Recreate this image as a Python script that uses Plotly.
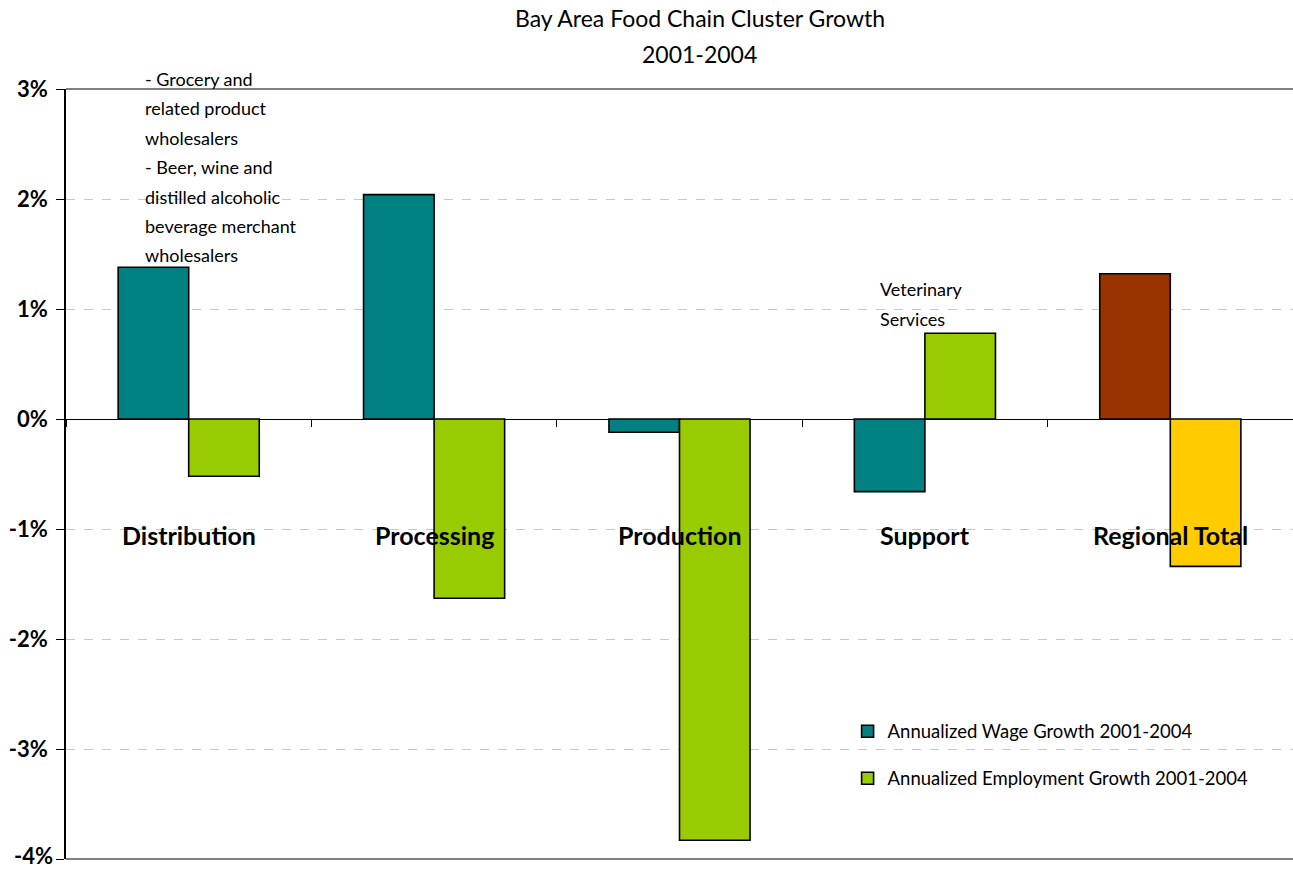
import plotly.graph_objects as go

# Cluster segments and annualized growth rates (percent)
categories = ["Distribution", "Processing", "Production", "Support", "Regional Total"]
wage_growth = [1.38, 2.04, -0.12, -0.66, 1.32]
employment_growth = [-0.52, -1.63, -3.83, 0.78, -1.34]

wage_colors = ["#008080", "#008080", "#008080", "#008080", "#993300"]
employment_colors = ["#99CC00", "#99CC00", "#99CC00", "#99CC00", "#FFCC00"]

y_ticks = [3, 2, 1, 0, -1, -2, -3, -4]
y_tick_labels = ["3%", "2%", "1%", "0%", "-1%", "-2%", "-3%", "-4%"]

title_lines = ["Bay Area Food Chain Cluster Growth", "2001-2004"]
distribution_note = [
    "- Grocery and",
    "related product",
    "wholesalers",
    "- Beer, wine and",
    "distilled alcoholic",
    "beverage merchant",
    "wholesalers",
]
support_note = ["Veterinary", "Services"]

FONT = "Lato, 'Open Sans', sans-serif"
Y_MIN, Y_MAX = -4, 3

fig = go.Figure()
fig.add_trace(go.Bar(
    x=categories, y=wage_growth, name="Annualized Wage Growth 2001-2004",
    marker=dict(color=wage_colors, line=dict(color="black", width=1.6)),
    legendgroup="wage",
))
fig.add_trace(go.Bar(
    x=categories, y=employment_growth, name="Annualized Employment Growth 2001-2004",
    marker=dict(color=employment_colors, line=dict(color="black", width=1.6)),
    legendgroup="emp",
))

annotations = []
# Two-line title
for i, line in enumerate(title_lines):
    annotations.append(dict(
        text=line, xref="paper", yref="paper", x=668 / 1293, y=1, yshift=71 - 36 * i,
        xanchor="center", yanchor="middle", showarrow=False,
        font=dict(family=FONT, size=23, color="black"),
    ))
# Category labels drawn inside the plot below the zero line
for cat in categories:
    annotations.append(dict(
        text=f"<b>{cat}</b>", x=cat, y=-1.05, xref="x", yref="y",
        showarrow=False, xanchor="center", yanchor="middle",
        font=dict(family=FONT, size=25, color="black"),
    ))
# Notes beside bars
for i, line in enumerate(distribution_note):
    annotations.append(dict(
        text=line, xref="x", yref="y", x="Distribution", xshift=-46, y=2.9,
        yshift=21 - 29.4 * i, showarrow=False, xanchor="left", yanchor="middle",
        font=dict(family=FONT, size=18, color="black"),
    ))
for i, line in enumerate(support_note):
    annotations.append(dict(
        text=line, xref="x", yref="y", x="Support", xshift=-47, y=1.18,
        yshift=-29.4 * i, showarrow=False, xanchor="left", yanchor="middle",
        font=dict(family=FONT, size=18, color="black"),
    ))
# Bottom tick label, kept inside the page edge
annotations.append(dict(
    text=f"<b>{y_tick_labels[-1]}</b>", xref="paper", yref="paper", x=0, y=0,
    xshift=-12, yshift=-11, xanchor="right", yanchor="bottom", showarrow=False,
    font=dict(family=FONT, size=22, color="black"), borderpad=0,
))

fig.update_layout(
    width=1293, height=870,
    margin=dict(l=66, r=0, t=89, b=11, autoexpand=False),
    paper_bgcolor="white", plot_bgcolor="white",
    barmode="group", bargap=0.425, bargroupgap=0,
    font=dict(family=FONT, color="black"),
    showlegend=True,
    legend=dict(
        x=0.637, y=0.19, xanchor="left", yanchor="top",
        bgcolor="rgba(0,0,0,0)", font=dict(family=FONT, size=18.5, color="black"),
        tracegroupgap=20, itemwidth=30,
    ),
    annotations=annotations,
    shapes=[
        dict(type="line", xref="paper", yref="paper", x0=0, x1=1, y0=1, y1=1,
             line=dict(color="#808080", width=2)),
        dict(type="line", xref="paper", yref="paper", x0=0, x1=1, y0=0, y1=0,
             line=dict(color="#808080", width=2)),
    ],
)

fig.update_yaxes(
    range=[Y_MIN, Y_MAX], tickvals=y_ticks,
    ticktext=[f"<b>{t}</b>" for t in y_tick_labels[:-1]] + [""],
    tickfont=dict(family=FONT, size=22, color="black"),
    ticklabelstandoff=4, automargin=False,
    showline=True, linecolor="black", linewidth=1.5,
    ticks="outside", ticklen=8, tickcolor="black", tickwidth=1,
    showgrid=True, gridcolor="#c8c8c8", griddash="dash", gridwidth=1,
    zeroline=True, zerolinecolor="black", zerolinewidth=1.2,
    domain=[0, 1], fixedrange=True,
)
fig.update_xaxes(
    anchor="free", position=(0 - Y_MIN) / (Y_MAX - Y_MIN), automargin=False,
    showticklabels=False, showline=False, showgrid=False,
    ticks="outside", tickson="boundaries", ticklen=7, tickcolor="black", tickwidth=1,
    fixedrange=True,
)

fig.write_html("out.html")
